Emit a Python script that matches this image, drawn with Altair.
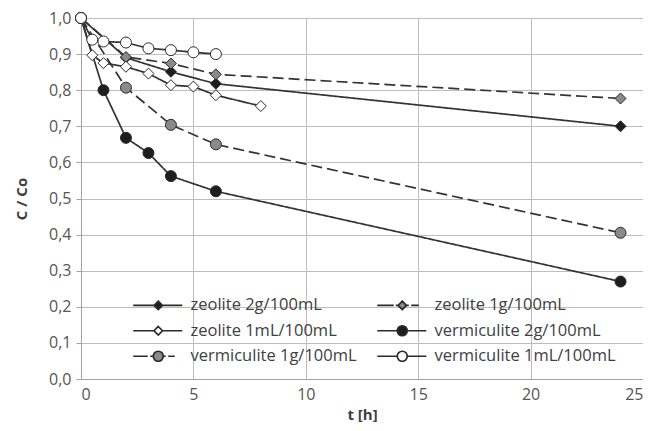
import altair as alt
import pandas as pd

series = [
    "zeolite 2g/100mL",
    "zeolite 1g/100mL",
    "zeolite 1mL/100mL",
    "vermiculite 2g/100mL",
    "vermiculite 1g/100mL",
    "vermiculite 1mL/100mL",
]

t_z2g = [0, 2, 4, 6, 24]
c_z2g = [1.0, 0.89, 0.851, 0.818, 0.70]
t_z1g = [0, 2, 4, 6, 24]
c_z1g = [1.0, 0.892, 0.874, 0.844, 0.777]
t_z1ml = [0, 0.5, 1, 2, 3, 4, 5, 6, 8]
c_z1ml = [1.0, 0.897, 0.875, 0.865, 0.846, 0.814, 0.81, 0.786, 0.756]
t_v2g = [0, 1, 2, 3, 4, 6, 24]
c_v2g = [1.0, 0.80, 0.668, 0.626, 0.562, 0.52, 0.27]
t_v1g = [0, 2, 4, 6, 24]
c_v1g = [1.0, 0.807, 0.704, 0.65, 0.405]
t_v1ml = [0, 0.5, 1, 2, 3, 4, 5, 6]
c_v1ml = [1.0, 0.94, 0.935, 0.932, 0.916, 0.911, 0.905, 0.90]

all_t = [t_z2g, t_z1g, t_z1ml, t_v2g, t_v1g, t_v1ml]
all_c = [c_z2g, c_z1g, c_z1ml, c_v2g, c_v1g, c_v1ml]

rows = []
for i, (name, ts, cs) in enumerate(zip(series, all_t, all_c)):
    for t, c in zip(ts, cs):
        rows.append({"series": name, "order": i, "t": t, "c": c})
df = pd.DataFrame(rows)

fills = ["#1e1e1e", "#8a8a8a", "#ffffff", "#1e1e1e", "#8a8a8a", "#ffffff"]
shapes = ["diamond", "diamond", "diamond", "circle", "circle", "circle"]
sizes = [121, 121, 121, 196, 196, 196]
dashes = [[1, 0], [11, 5], [1, 0], [1, 0], [11, 5], [1, 0]]

# legend symbols: line sample + marker, as custom paths (unit = sqrt(size)/2 px)
diamond = "M0,-0.85L0.85,0L0,0.85L-0.85,0Z"
circle = "M1,0A1,1,0,1,1,-1,0A1,1,0,1,1,1,0Z"
solid_d = "M-5,0H-0.85M0.85,0H4.8" + diamond
dash_d = "M-5,0H-1.7M-1.3,0H-0.85M0.85,0H1.3M1.8,0H3.3" + diamond
solid_c = "M-5,0H-1M1,0H4.8" + circle
dash_c = "M-5,0H-2.1M-1.6,0H-1M1,0H1.5M2.0,0H3.3" + circle
legend_paths = [solid_d, dash_d, solid_d, solid_c, dash_c, solid_c]

# legend entries are laid out column by column: reorder so rows read like the original
legend_idx = [0, 2, 4, 1, 3, 5]
legend_domain = [series[i] for i in legend_idx]
legend_fills = [fills[i] for i in legend_idx]
legend_shapes = [legend_paths[i] for i in legend_idx]

FONT = "Open Sans"

X = alt.X(
    "t:Q",
    title="t [h]",
    scale=alt.Scale(domain=[0, 25], nice=False),
    axis=alt.Axis(values=[0, 5, 10, 15, 20, 25], ticks=False, tickSize=0, labelPadding=7, titlePadding=5),
)
Y = alt.Y(
    "c:Q",
    title="C / Co",
    scale=alt.Scale(domain=[0, 1], nice=False),
    axis=alt.Axis(
        values=[round(v * 0.1, 1) for v in range(11)],
        labelExpr="replace(format(datum.value, '.1f'), '.', ',')",
        tickSize=5,
        labelPadding=5,
        titlePadding=19,
    ),
)

base = alt.Chart(df)

lines = base.mark_line(color="#333333", strokeWidth=1.7).encode(
    x=X,
    y=Y,
    detail="series:N",
    order="t:Q",
    strokeDash=alt.StrokeDash("series:N", scale=alt.Scale(domain=series, range=dashes), legend=None),
)

points = base.mark_point(filled=True, stroke="#2a2a2a", strokeWidth=1, opacity=1).encode(
    x=X,
    y=Y,
    fill=alt.Fill("series:N", scale=alt.Scale(domain=series, range=fills), legend=None),
    shape=alt.Shape("series:N", scale=alt.Scale(domain=series, range=shapes), legend=None),
    size=alt.Size("series:N", scale=alt.Scale(domain=series, range=sizes), legend=None),
    order="order:Q",
)

legend = alt.Legend(
    title=None,
    orient="none",
    legendX=69,
    legendY=279,
    columns=2,
    columnPadding=16,
    rowPadding=7.5,
    symbolSize=100,
    symbolStrokeWidth=1.7,
    symbolOpacity=1,
    labelOffset=24,
    labelFont=FONT,
    labelFontSize=16.5,
    labelColor="#404040",
    labelLimit=400,
)

legend_layer = (
    base.transform_filter("false")
    .mark_point(filled=True, strokeWidth=1.7, opacity=1)
    .encode(
        x=X,
        y=Y,
        shape=alt.Shape("series:N", scale=alt.Scale(domain=legend_domain, range=legend_shapes), legend=legend),
        fill=alt.Fill("series:N", scale=alt.Scale(domain=legend_domain, range=legend_fills), legend=legend),
        stroke=alt.Stroke("series:N", scale=alt.Scale(domain=legend_domain, range=["#2a2a2a"] * 6), legend=legend),
    )
)

chart = (
    alt.layer(lines, points, legend_layer)
    .resolve_scale(shape="independent", fill="independent", stroke="independent")
    .properties(
        width=635,
        height=414,
        autosize=alt.AutoSizeParams(type="fit", contains="padding"),
        padding={"left": 6, "top": 2, "right": 0, "bottom": 0},
    )
    .configure_view(stroke="#bdbdbd", strokeWidth=1)
    .configure_axis(
        grid=True,
        gridColor="#bdbdbd",
        gridWidth=1,
        domainColor="#a0a0a0",
        tickColor="#a0a0a0",
        labelFont=FONT,
        labelFontSize=16,
        labelColor="#555555",
        titleFont=FONT,
        titleFontSize=15,
        titleFontWeight="bold",
        titleColor="#404040",
    )
)

chart.save("out.html", embed_options={"renderer": "svg", "actions": False})
